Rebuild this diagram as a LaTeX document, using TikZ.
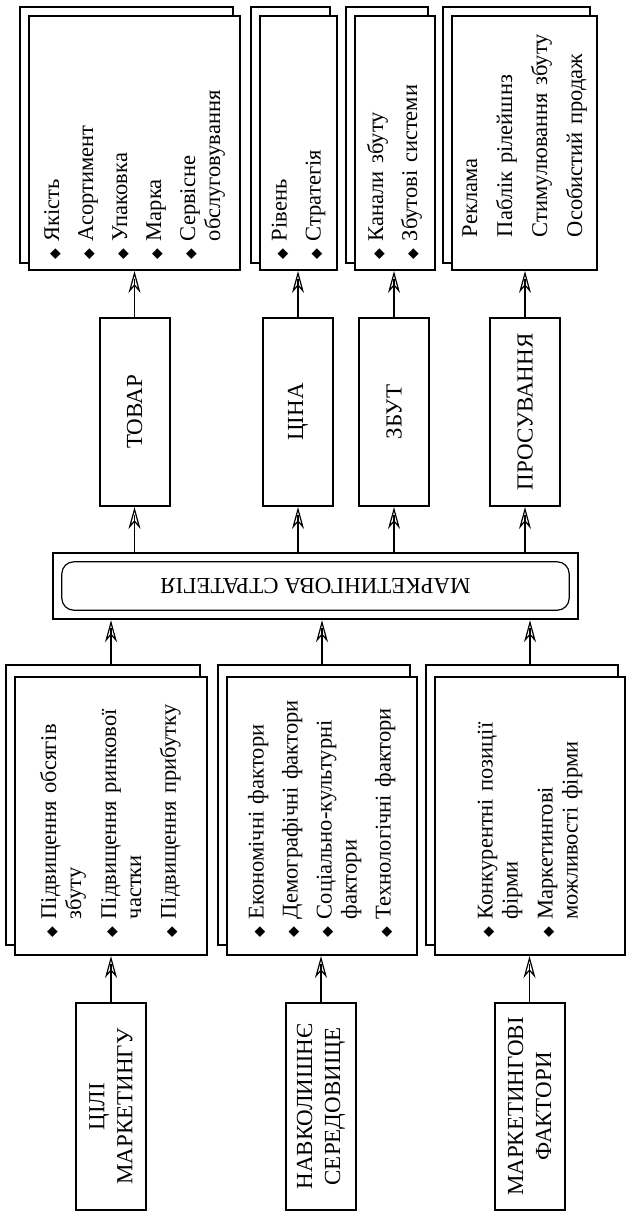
\documentclass[tikz,border=0pt]{standalone}
\usepackage{fontspec}
\setmainfont{Liberation Serif}
\newfontfamily\symfnt{DejaVu Sans}
\usetikzlibrary{arrows.meta,backgrounds}
\newcommand{\bul}{{\symfnt\fontsize{14}{14}\selectfont ◆}}
\newcommand{\listfont}{\fontsize{22.5}{25}\selectfont}
\newcommand{\capfont}{\fontsize{23}{28}\selectfont}
\begin{document}
\begin{tikzpicture}[x=1pt,y=-1pt,
  frontbox/.style={draw, line width=2pt, fill=white, rotate=90, inner ysep=0pt},
  listbox/.style={frontbox, align=left, font=\listfont},
  capbox/.style={frontbox, align=center, font=\capfont, inner xsep=0pt},
  backbox/.style={draw, line width=2pt, fill=white},
  arr/.style={line width=1.3pt, -{Stealth[open, length=22pt, width=12pt, inset=7pt, line width=1.2pt]},
              postaction={draw, -, line width=1.3pt, shorten >=8pt}}
]
\useasboundingbox (0,0) rectangle (626,1211);

% output lists
\node[listbox, minimum width=254pt, minimum height=211pt, inner xsep=11pt, text width=232pt] (o1) at (134.5,143)
 {\begin{tabular}{@{}l@{\hspace{7pt}}l@{}}\bul&Якість\\[9pt]\bul&Асортимент\\[9pt]\bul&Упаковка\\[9pt]\bul&Марка\\[9pt]\bul&Сервісне\\&обслуговування\end{tabular}};
\node[listbox, minimum width=254pt, minimum height=77pt, inner xsep=11pt, text width=232pt] (o2) at (298.5,143)
 {\begin{tabular}{@{}l@{\hspace{7pt}}l@{}}\bul&Рівень\\[9pt]\bul&Стратегія\end{tabular}};
\node[listbox, minimum width=254pt, minimum height=80pt, inner xsep=11pt, text width=232pt] (o3) at (395,143)
 {\begin{tabular}{@{}l@{\hspace{7pt}}l@{}}\bul&Канали збуту\\[9pt]\bul&Збутові системи\end{tabular}};
\node[listbox, minimum width=254pt, minimum height=145pt, inner xsep=33pt, text width=188pt] (o4) at (524.5,143)
 {\begin{tabular}{@{}l@{}}Реклама\\[10pt]Паблік рілейшнз\\[10pt]Стимулювання збуту\\[10pt]Особистий продаж\end{tabular}};

% middle boxes
\node[capbox, minimum width=188pt, minimum height=70pt] (m1) at (134.5,412) {ТОВАР};
\node[capbox, minimum width=188pt, minimum height=70pt] (m2) at (298,412) {ЦІНА};
\node[capbox, minimum width=188pt, minimum height=70pt] (m3) at (394,412) {ЗБУТ};
\node[capbox, minimum width=188pt, minimum height=70pt] (m4) at (525,412) {ПРОСУВАННЯ};

% strategy
\node[draw, line width=2.4pt, fill=white, minimum width=525pt, minimum height=66pt, inner sep=0pt] (st) at (315.5,586) {};
\draw[line width=1.2pt, rounded corners=12pt] ([shift={(10,10)}]st.north west) rectangle ([shift={(-10,-10)}]st.south east);
\node[rotate=180, font=\capfont, inner sep=0pt] (stt) at (st.center) {МАРКЕТИНГОВА СТРАТЕГІЯ};

% input lists
\node[listbox, minimum width=278pt, minimum height=192pt, inner xsep=18pt, text width=242pt] (i1) at (111,816)
 {\begin{tabular}{@{}l@{\hspace{7pt}}l@{}}\bul&Підвищення обсягів\\&збуту\\[10pt]\bul&Підвищення ринкової\\&частки\\[10pt]\bul&Підвищення прибутку\end{tabular}};
\node[listbox, minimum width=278pt, minimum height=190pt, inner xsep=18pt, text width=242pt] (i2) at (322,816)
 {\begin{tabular}{@{}l@{\hspace{7pt}}l@{}}\bul&Економічні фактори\\[9pt]\bul&Демографічні фактори\\[9pt]\bul&Соціально-культурні\\&фактори\\[9pt]\bul&Технологічні фактори\end{tabular}};
\node[listbox, minimum width=278pt, minimum height=190pt, inner xsep=18pt, text width=242pt] (i3) at (530,816)
 {\begin{tabular}{@{}l@{\hspace{7pt}}l@{}}\bul&Конкурентні позиції\\&фірми\\[10pt]\bul&Маркетингові\\&можливості фірми\end{tabular}};

% sources
\node[capbox, minimum width=207pt, minimum height=70pt] (s1) at (111,1106.5) {ЦІЛІ\\МАРКЕТИНГУ};
\node[capbox, minimum width=207pt, minimum height=70pt] (s2) at (321,1106.5) {НАВКОЛИШНЄ\\СЕРЕДОВИЩЕ};
\node[capbox, minimum width=207pt, minimum height=70pt] (s3) at (529.5,1106.5) {МАРКЕТИНГОВІ\\ФАКТОРИ};

% back (shadow) boxes
\begin{scope}[on background layer]
  \fill[white] (0,0) rectangle (626,1211);
  \foreach \n in {o1,o2,o3,o4}
    \draw[backbox] ([shift={(-8,-8)}]\n.north east) rectangle ([shift={(-8,-8)}]\n.south west);
  \foreach \n in {i1,i2,i3}
    \draw[backbox] ([shift={(-8,-11)}]\n.north east) rectangle ([shift={(-8,-11)}]\n.south west);
\end{scope}

% connectors
\foreach \s/\i in {s1/i1,s2/i2,s3/i3}
  \draw[arr] (\s.east) -- (\s.east |- \i.west);
\foreach \i in {i1,i2,i3}
  \draw[arr] ([shift={(0,-11)}]\i.east) -- (\i.east |- st.south);
\foreach \m/\o in {m1/o1,m2/o2,m3/o3,m4/o4}{
  \draw[arr] (\m.west |- st.north) -- (\m.west);
  \draw[arr] (\m.east) -- (\m.east |- \o.west);
}
\end{tikzpicture}
\end{document}
